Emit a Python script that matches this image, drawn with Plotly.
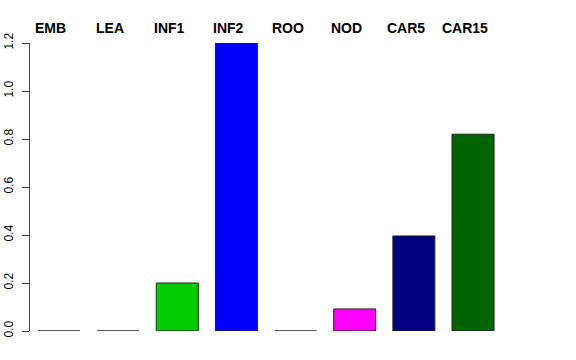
import plotly.graph_objects as go

categories = ["EMB", "LEA", "INF1", "INF2", "ROO", "NOD", "CAR5", "CAR15"]
values = [0.0, 0.0, 0.2, 1.2, 0.0, 0.092, 0.396, 0.82]
colors = ["#000000", "#000000", "#00CC00", "#0000FF", "#000000", "#FF00FF", "#000080", "#006400"]
y_ticks = [0.0, 0.2, 0.4, 0.6, 0.8, 1.0, 1.2]

fig = go.Figure()
fig.add_trace(go.Bar(
    x=list(range(len(categories))), y=values,
    marker=dict(color=colors, line=dict(color="#222222", width=1)),
    hoverinfo="skip",
))

for i, c in enumerate(categories):
    fig.add_annotation(x=i, y=1, xref="x", yref="paper", text="<b>%s</b>" % c,
                       showarrow=False, yanchor="bottom", yshift=5, xshift=-8,
                       font=dict(size=14, color="black", family="Liberation Sans, Arial"))

fig.update_layout(
    width=576, height=360,
    margin=dict(l=30, r=74, t=43, b=29),
    paper_bgcolor="white", plot_bgcolor="white",
    bargap=0.29,
    showlegend=False,
    font=dict(family="Liberation Sans, Arial", size=12, color="black"),
)
fig.update_xaxes(range=[-0.49, 7.49], showticklabels=False, showgrid=False,
                 zeroline=False, showline=False, ticks="", automargin=False)
fig.update_yaxes(range=[0, 1.2], tickvals=y_ticks, ticktext=["%.1f" % v for v in y_ticks],
                 tickangle=-90, ticks="outside", ticklen=7, tickcolor="#444444",
                 ticklabelstandoff=4,
                 showline=True, linecolor="#444444", linewidth=1, automargin=False,
                 showgrid=False, zeroline=False, tickfont=dict(size=12))

fig.write_html("out.html", config={"displayModeBar": False},
               post_script="document.body.style.margin='0';document.body.style.overflow='hidden';")
